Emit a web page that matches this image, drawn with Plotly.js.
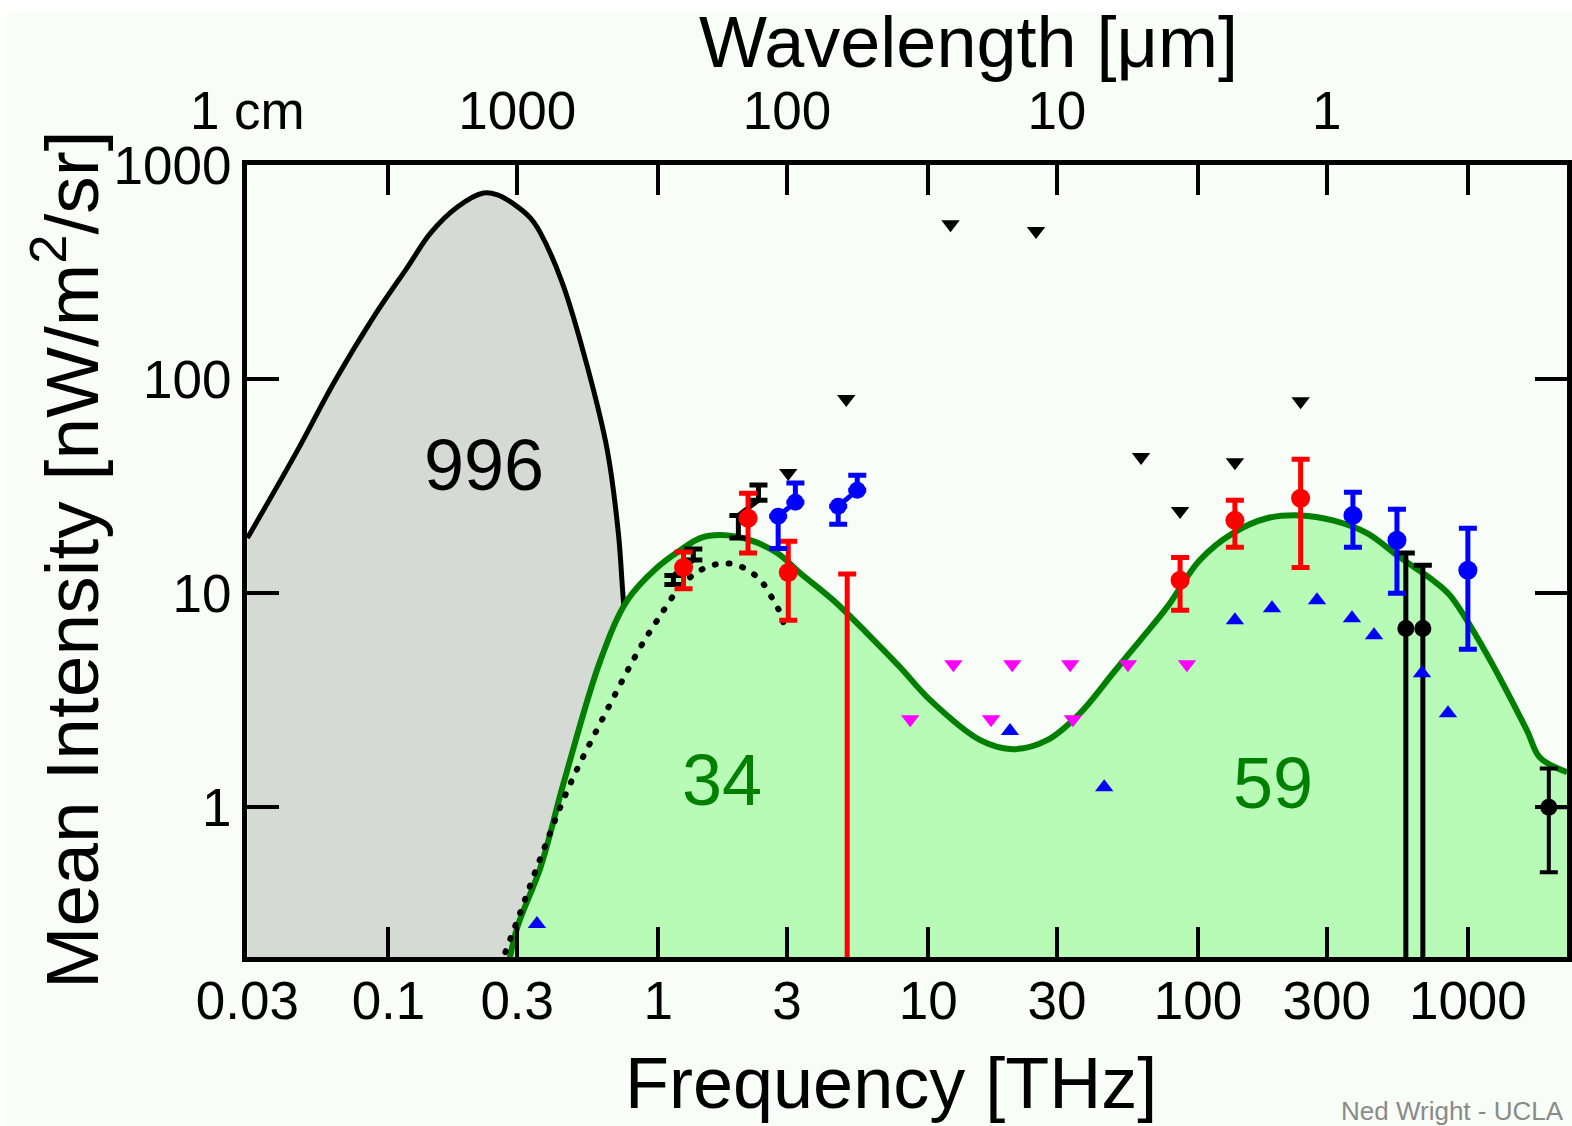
<!DOCTYPE html>
<html><head><meta charset="utf-8">
<script src="https://cdn.plot.ly/plotly-3.0.1.min.js"></script>
<style>
html,body{margin:0;padding:0;background:#fff}
#chart{width:1572px;height:1126px}
#chart path.js-line[style*="dasharray"]{stroke-linecap:round}
</style>
</head><body><div id="chart"></div>
<script>
// ---- CMB blackbody (gray) ----
const cmbFreq = [0.03, 0.0460, 0.0626, 0.0880, 0.1175, 0.1431, 0.180, 0.225, 0.2535, 0.295, 0.336, 0.366, 0.441, 0.546, 0.647, 0.711, 0.742, 0.858, 0.975];
const cmbInt  = [18.1, 46.5, 95.8, 195, 333, 481, 637, 740, 725, 650, 565, 481, 281, 114, 46.5, 19.1, 9.27, 1.08, 0.125];

// ---- CIB + COB model (green) ----
const bgFreq = [0.276, 0.300, 0.366, 0.445, 0.610, 0.767, 0.99, 1.206, 1.43, 1.70, 2.19, 2.76, 3.36, 4.45, 5.94, 7.87, 10.2, 15.6, 20.6, 27.6, 36.5, 48.4, 61.0, 76.8, 101.6, 134.8, 180, 239, 316, 423, 560, 742, 857, 1136, 1655, 1849, 2330];
const bgInt  = [0.173, 0.275, 0.525, 1.29, 4.86, 9.27, 13.2, 15.9, 18.1, 18.7, 17.7, 15.4, 12.4, 9.27, 6.50, 4.51, 3.16, 2.06, 1.87, 2.06, 2.75, 4.23, 6.03, 8.61, 14.3, 19.1, 22.4, 23.1, 21.9, 19.1, 14.7, 11.5, 9.80, 5.60, 2.29, 1.71, 1.46];

// ---- dust model (dotted) ----
const dustFreq = [0.260, 0.303, 0.375, 0.472, 0.626, 0.858, 0.991, 1.206, 1.43, 1.74, 2.06, 2.39, 2.67, 2.83, 2.95];
const dustInt  = [0.183, 0.306, 0.630, 1.29, 2.64, 5.60, 7.48, 10.7, 12.8, 13.8, 13.2, 11.5, 9.27, 8.07, 6.85];

// ---- red measurements ----
const redFreq = [1.24, 2.15, 3.03, 85.8, 137, 240];
const redInt  = [13.2, 22.4, 12.5, 11.5, 21.9, 27.8];
const redHigh = [15.6, 29.3, 17.5, 14.7, 27.2, 42.3];
const redLow  = [10.5, 15.4, 7.48, 8.34, 16.4, 13.2];
const redLimFreq = [5.01];
const redLimTop  = [12.3];

// ---- blue measurements ----
const blueFreq = [375, 546, 1000];
const blueInt  = [23.1, 17.7, 12.8];
const blueHigh = [29.6, 24.7, 20.1];
const blueLow  = [16.4, 10.0, 5.47];
// slanted blue bars: lower half / upper half
const blueSlLoFreq = [2.78, 4.64];
const blueSlLoInt  = [22.9, 25.5];
const blueSlLoEnd  = [16.2, 21.0];
const blueSlHiFreq = [3.22, 5.46];
const blueSlHiInt  = [26.6, 30.3];
const blueSlHiEnd  = [32.7, 35.6];

// ---- black measurements ----
const blkSlLoFreq = [1.137, 1.98];
const blkSlLoInt  = [12.1, 23.1];
const blkSlLoEnd  = [11.0, 18.1];
const blkSlHiFreq = [1.348, 2.35];
const blkSlHiInt  = [14.3, 27.2];
const blkSlHiEnd  = [16.1, 32.0];
const blkFreq = [589, 681];
const blkInt  = [6.85, 6.85];
const blkHigh = [15.4, 13.5];
const blkFarFreq = [1995];
const blkFarInt  = [1.0];
const blkFarHigh = [1.52];
const blkFarLow  = [0.497];

// ---- limits (triangles) ----
const ulBlackFreq = [3.03, 4.97, 12.1, 25.1, 61.5, 85.8, 137, 240];
const ulBlackInt  = [36.4, 80.7, 529, 492, 43.3, 24.2, 40.9, 78.9];
const ulMagFreq = [8.58, 12.4, 17.1, 20.5, 33.6, 34.4, 55.0, 91.0];
const ulMagInt  = [2.58, 4.66, 2.58, 4.66, 4.66, 2.58, 4.66, 4.66];
const llBlueFreq = [0.355, 20.1, 44.9, 137, 188, 276, 372, 449, 676, 844];
const llBlueInt  = [0.285, 2.27, 1.24, 7.48, 8.51, 9.27, 7.64, 6.37, 4.23, 2.75];

// ---- ticks / labels ----
const freqTicks = [0.03, 0.1, 0.3, 1, 3, 10, 30, 100, 300, 1000];
const freqTickText = ['0.03', '0.1', '0.3', '1', '3', '10', '30', '100', '300', '1000'];
const wlMicron = [10000, 1000, 100, 10, 1];
const wlTickText = ['1 cm', '1000', '100', '10', '1'];
const intTicks = [1, 10, 100, 1000];
const intTickText = ['1', '10', '100', '1000'];
const areaLabels = ['996', '34', '59'];
const areaLabelFreq = [0.225, 1.726, 190];
const areaLabelInt = [39.6, 1.34, 1.30];

const C_THZ_UM = 299.792458;
const wlTickFreq = wlMicron.map(l => C_THZ_UM / l);

function slanted(loF, loI, loE, hiF, hiI, hiE) {
  const x = [], y = [], plus = [], minus = [];
  for (let i = 0; i < loF.length; i++) {
    x.push(loF[i], hiF[i], null);
    y.push(loI[i], hiI[i], null);
    plus.push(0, hiE[i] - hiI[i], null);
    minus.push(loI[i] - loE[i], 0, null);
  }
  return {x, y, plus, minus};
}
const bsl = slanted(blkSlLoFreq, blkSlLoInt, blkSlLoEnd, blkSlHiFreq, blkSlHiInt, blkSlHiEnd);
const usl = slanted(blueSlLoFreq, blueSlLoInt, blueSlLoEnd, blueSlHiFreq, blueSlHiInt, blueSlHiEnd);

const FONT = 'Liberation Sans, Arial, Helvetica, sans-serif';
const sub = (a, b) => a.map((v, i) => v - b[i]);

const traces = [
  {x: cmbFreq, y: cmbInt, mode: 'lines', fill: 'tozeroy', fillcolor: '#d6dad4',
   line: {color: '#000', width: 5, shape: 'spline', smoothing: 1.0}, hoverinfo: 'skip'},
  {x: bgFreq, y: bgInt, mode: 'lines', fill: 'tozeroy', fillcolor: '#b7fbb7',
   line: {color: '#007f00', width: 6, shape: 'spline', smoothing: 1.0}, hoverinfo: 'skip'},
  {x: dustFreq, y: dustInt, mode: 'lines',
   line: {color: '#000', width: 6, dash: '1px,13px', shape: 'spline', smoothing: 1.0}, hoverinfo: 'skip'},
  {x: bsl.x, y: bsl.y, mode: 'lines', connectgaps: false,
   line: {color: '#000', width: 5},
   error_y: {type: 'data', symmetric: false, array: bsl.plus, arrayminus: bsl.minus, color: '#000', thickness: 5, width: 9}},
  {x: blkFreq, y: blkInt, mode: 'markers', marker: {color: '#000', size: 17},
   error_y: {type: 'data', symmetric: false, array: sub(blkHigh, blkInt), arrayminus: blkInt, color: '#000', thickness: 5, width: 9}},
  {x: blkFarFreq, y: blkFarInt, mode: 'markers', marker: {color: '#000', size: 17},
   error_y: {type: 'data', symmetric: false, array: sub(blkFarHigh, blkFarInt), arrayminus: sub(blkFarInt, blkFarLow), color: '#000', thickness: 4, width: 9},
   error_x: {type: 'data', symmetric: false, array: [2000], arrayminus: [0], color: '#000', thickness: 4, width: 0}},
  {x: redFreq, y: redInt, mode: 'markers', marker: {color: '#ff0000', size: 19},
   error_y: {type: 'data', symmetric: false, array: sub(redHigh, redInt), arrayminus: sub(redInt, redLow), color: '#ff0000', thickness: 5, width: 9}},
  {x: redLimFreq, y: redLimTop, mode: 'markers', marker: {color: '#ff0000', size: 1, opacity: 0},
   error_y: {type: 'data', symmetric: false, array: [0], arrayminus: redLimTop, color: '#ff0000', thickness: 5, width: 9}},
  {x: usl.x, y: usl.y, mode: 'lines+markers', connectgaps: false,
   line: {color: '#0000ff', width: 5}, marker: {color: '#0000ff', size: 17},
   error_y: {type: 'data', symmetric: false, array: usl.plus, arrayminus: usl.minus, color: '#0000ff', thickness: 5, width: 9}},
  {x: blueFreq, y: blueInt, mode: 'markers', marker: {color: '#0000ff', size: 19},
   error_y: {type: 'data', symmetric: false, array: sub(blueHigh, blueInt), arrayminus: sub(blueInt, blueLow), color: '#0000ff', thickness: 5, width: 9}},
  {x: ulBlackFreq, y: ulBlackInt, mode: 'markers', marker: {color: '#000', size: 16, symbol: 'triangle-down'}},
  {x: ulMagFreq, y: ulMagInt, mode: 'markers', marker: {color: '#ff00ff', size: 16, symbol: 'triangle-down'}},
  {x: llBlueFreq, y: llBlueInt, mode: 'markers', marker: {color: '#0000ff', size: 16, symbol: 'triangle-up'}},
  {x: [1], y: [1], xaxis: 'x2', mode: 'markers', marker: {opacity: 0}, hoverinfo: 'skip'}
];
traces.forEach(t => { t.showlegend = false; t.cliponaxis = true; });

const xr = [Math.log10(0.0299), Math.log10(2330)];
const PL = 247, PR = 5, PT = 165, PB = 169;
const W = 1572, H = 1126;
const pw = W - PL - PR, ph = H - PT - PB;
const px2paperX = p => (p - PL) / pw;
const px2paperY = p => (H - PB - p) / ph;

const annotations = [
  {text: 'Wavelength [μm]', xref: 'paper', yref: 'paper', x: px2paperX(968), y: px2paperY(42), xanchor: 'center', yanchor: 'middle', showarrow: false, font: {size: 72, color: '#000', family: FONT}},
  {text: 'Frequency [THz]', xref: 'paper', yref: 'paper', x: px2paperX(891), y: px2paperY(1083), xanchor: 'center', yanchor: 'middle', showarrow: false, font: {size: 72, color: '#000', family: FONT}},
  {text: 'Mean Intensity [nW/m<sup>2</sup>/sr]', xref: 'paper', yref: 'paper', x: px2paperX(66), y: px2paperY(560), xanchor: 'center', yanchor: 'middle', textangle: -90, showarrow: false, font: {size: 75, color: '#000', family: FONT}},
  {text: 'Ned Wright - UCLA', xref: 'paper', yref: 'paper', x: px2paperX(1566), y: px2paperY(1111), xanchor: 'right', yanchor: 'middle', showarrow: false, font: {size: 26, color: '#8a8a8a', family: FONT}}
];
const areaColors = ['#000', '#007f00', '#007f00'];
areaLabels.forEach((t, i) => annotations.push({
  text: t, xref: 'x', yref: 'y', x: Math.log10(areaLabelFreq[i]), y: Math.log10(areaLabelInt[i]),
  xanchor: 'center', yanchor: 'middle', showarrow: false, font: {size: 72, color: areaColors[i], family: FONT}
}));

const BG = '#f8fdf7';
const layout = {
  width: W, height: H,
  margin: {l: PL, r: PR, t: PT, b: PB, pad: 0},
  paper_bgcolor: '#ffffff', plot_bgcolor: BG,
  font: {family: FONT, color: '#000'},
  showlegend: false,
  xaxis: {type: 'log', range: xr, tickmode: 'array', tickvals: freqTicks, ticktext: freqTickText,
    ticks: 'inside', ticklen: 30, tickwidth: 4, tickcolor: '#000', showline: true, linewidth: 5, linecolor: '#000',
    mirror: 'ticks', showgrid: false, zeroline: false, tickfont: {size: 53, color: '#000'}, ticklabelstandoff: -7, fixedrange: true},
  xaxis2: {type: 'log', range: xr, overlaying: 'x', side: 'top', anchor: 'y', tickmode: 'array', tickvals: wlTickFreq, ticktext: wlTickText,
    ticks: '', showline: false, showgrid: false, zeroline: false, tickfont: {size: 53, color: '#000'}, ticklabelstandoff: 24, fixedrange: true},
  yaxis: {type: 'log', range: [Math.log10(0.2), Math.log10(1000.5)], tickmode: 'array', tickvals: intTicks, ticktext: intTickText,
    ticks: 'inside', ticklen: 32, tickwidth: 4, tickcolor: '#000', showline: true, linewidth: 5, linecolor: '#000',
    mirror: 'ticks', showgrid: false, zeroline: false, tickfont: {size: 53, color: '#000'}, fixedrange: true},
  shapes: [{type: 'rect', xref: 'paper', yref: 'paper', x0: px2paperX(7), x1: px2paperX(1572), y0: px2paperY(1126), y1: px2paperY(12),
    fillcolor: BG, line: {width: 0}, layer: 'below'}],
  annotations: annotations
};

Plotly.newPlot('chart', traces, layout, {displayModeBar: false, staticPlot: true});
</script></body></html>
